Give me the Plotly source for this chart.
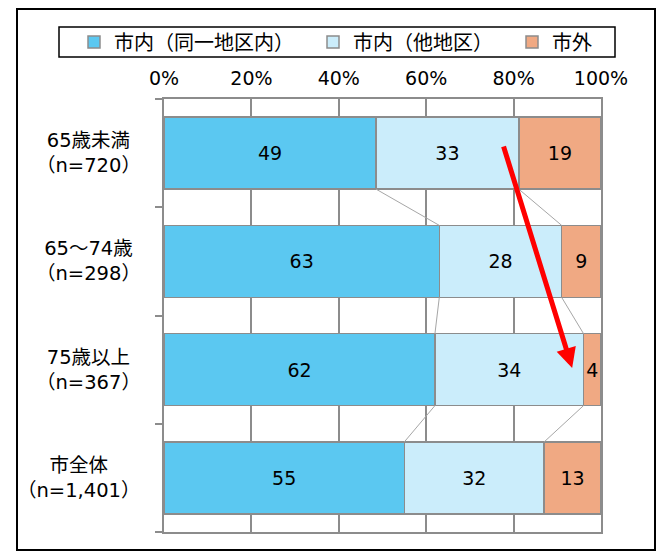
import plotly.graph_objects as go

categories = ["65歳未満", "65〜74歳", "75歳以上", "市全体"]
n_labels = ["（n=720）", "（n=298）", "（n=367）", "（n=1,401）"]
series_names = ["市内（同一地区内）", "市内（他地区）", "市外"]
same_district = [49, 63, 62, 55]
other_district = [33, 28, 34, 32]
outside_city = [19, 9, 4, 13]
x_tick_vals = [0, 20, 40, 60, 80, 100]
x_tick_text = ["0%", "20%", "40%", "60%", "80%", "100%"]

colors = ["#5BC8F1", "#CBEDFB", "#F0A983"]
series = [same_district, other_district, outside_city]
ypos = list(range(len(categories)))
NUM_FONT = "DejaVu Sans, Noto Sans CJK JP"
BAR_W = 0.665

fig = go.Figure()
for name, vals, col in zip(series_names, series, colors):
    fig.add_trace(go.Bar(
        y=ypos, x=vals, name=name + "\u3000\u2009", orientation="h",
        marker=dict(color=col, line=dict(color="#8C8C8C", width=1.5)),
        text=[str(v) for v in vals], textposition="inside",
        insidetextanchor="middle", constraintext="none", textangle=0,
        textfont=dict(family=NUM_FONT, size=19, color="#000000"),
        width=BAR_W, hoverinfo="skip",
    ))

# connector lines between cumulative boundaries (normalized to 100%)
totals = [a + b + c for a, b, c in zip(*series)]
b1 = [100 * a / t for a, t in zip(same_district, totals)]
b2 = [100 * (a + b) / t for a, b, t in zip(same_district, other_district, totals)]
for bnd in (b1, b2):
    xs, ys = [], []
    for i in range(len(categories) - 1):
        xs += [bnd[i], bnd[i + 1], None]
        ys += [i + BAR_W / 2, i + 1 - BAR_W / 2, None]
    fig.add_trace(go.Scatter(x=xs, y=ys, mode="lines", showlegend=False,
                             line=dict(color="#A6A6A6", width=1), hoverinfo="skip"))

annotations = []
for i, (c, n) in enumerate(zip(categories, n_labels)):
    annotations.append(dict(
        x=0, xref="paper", y=i, yref="y", xanchor="right", yanchor="middle",
        xshift=-21, text=c + "<br>" + n, showarrow=False, align="center",
        font=dict(family=NUM_FONT, size=19.5, color="#000000"),
    ))
# red arrow
annotations.append(dict(
    x=93.4, y=1.985, xref="x", yref="y", ax=77.6, ay=-0.075, axref="x", ayref="y",
    showarrow=True, arrowhead=2, arrowsize=0.8, arrowwidth=5, arrowcolor="#FF0000",
    text="",
))

# page body has an 8px margin, so the figure is 8px smaller on each axis
fig.update_layout(
    width=660, height=544,
    margin=dict(l=156, r=67, t=91, b=20),
    paper_bgcolor="#FFFFFF", plot_bgcolor="#FFFFFF",
    barmode="stack", barnorm="percent",
    font=dict(family=NUM_FONT, size=19, color="#000000"),
    showlegend=True,
    legend=dict(orientation="h", x=(74 - 164) / 437, xanchor="left",
                y=(532 - 42) / 433, yanchor="middle",
                font=dict(family=NUM_FONT, size=20, color="#000000"),
                bgcolor="rgba(0,0,0,0)", borderwidth=0, traceorder="normal"),
    xaxis=dict(side="top", range=[0, 100], tickvals=x_tick_vals, ticktext=x_tick_text,
               showgrid=True, gridcolor="#8C8C8C", gridwidth=2,
               showline=True, linecolor="#8C8C8C", linewidth=2, mirror=True,
               ticks="", zeroline=False, fixedrange=True, ticklabelstandoff=4,
               tickfont=dict(family=NUM_FONT, size=19, color="#000000")),
    yaxis=dict(range=[len(categories) - 0.5, -0.5], tickvals=[i - 0.5 for i in range(len(categories) + 1)],
               showticklabels=False, ticks="outside", ticklen=7, tickcolor="#8C8C8C", tickwidth=2,
               showgrid=False, zeroline=False,
               showline=True, linecolor="#8C8C8C", linewidth=2, mirror=True),
    annotations=annotations,
    shapes=[
        dict(type="rect", xref="paper", yref="paper",
             x0=(17 - 164) / 437, x1=(655 - 164) / 437,
             y0=(532 - 550) / 433, y1=(532 - 9) / 433,
             line=dict(color="#000000", width=2), fillcolor="rgba(0,0,0,0)", layer="below"),
        dict(type="rect", xref="paper", yref="paper",
             x0=(59 - 164) / 437, x1=(615 - 164) / 437,
             y0=(532 - 57) / 433, y1=(532 - 27) / 433,
             line=dict(color="#000000", width=1.5), fillcolor="rgba(0,0,0,0)"),
    ],
)

fig.write_html("out.html")
